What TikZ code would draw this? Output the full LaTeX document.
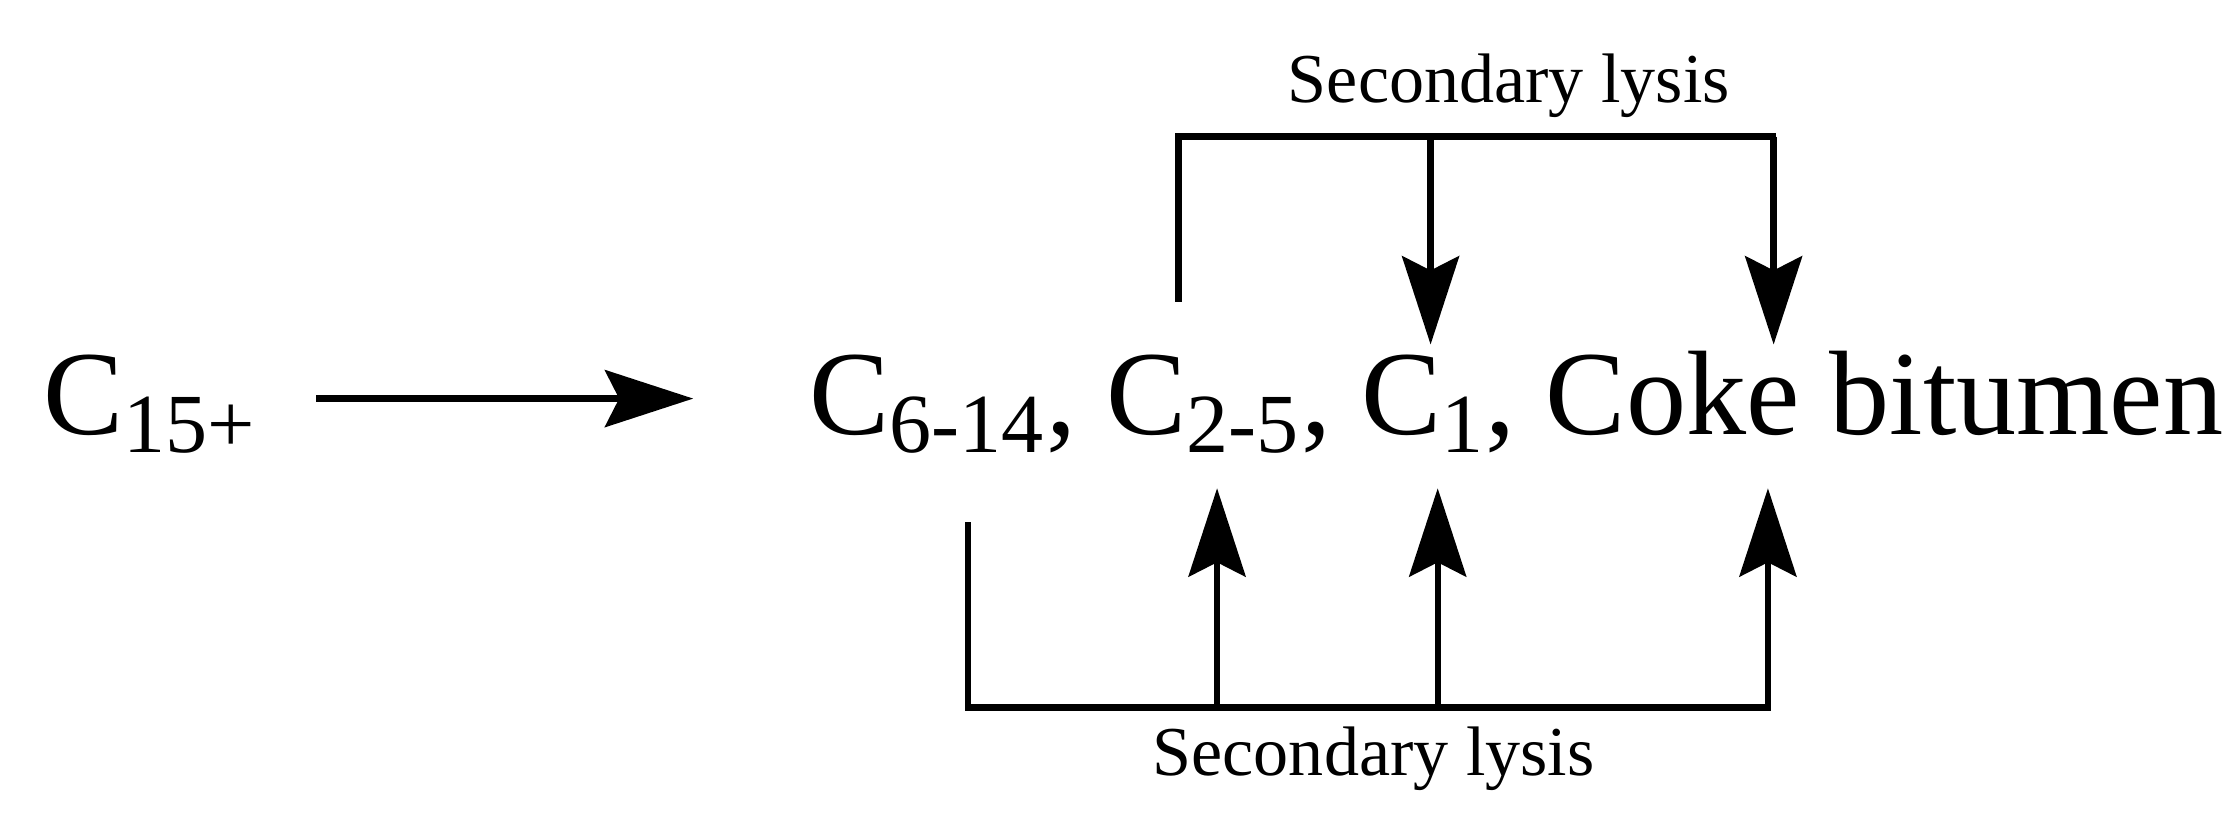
\documentclass[tikz,border=0pt]{standalone}
\usepackage{fontspec}
\setmainfont{Liberation Serif}
\usetikzlibrary{arrows.meta}
\begin{document}
\begin{tikzpicture}[x=0.01cm,y=-0.01cm,
  ln/.style={line width=0.045cm},
  arr/.style={ln,-{Stealth[length=0.62cm,width=0.4cm,inset=0.1cm]}},
  big/.style={inner sep=0,font=\fontsize{24}{28}\selectfont},
  lab/.style={inner sep=0,font=\fontsize{14}{17}\selectfont}]
\useasboundingbox (0,0) rectangle (1568,590);
\node[big,anchor=base west] (src) at (30,305) {C\textsubscript{15+}};
\node[big,anchor=base west] (prod) at (568,305) {C\textsubscript{6-14}, C\textsubscript{2-5}, C\textsubscript{1}, Coke bitumen};
\coordinate (a1) at (222,280); \coordinate (a2) at (487,280);
\draw[arr] (a1) -- (a2);
% top
\coordinate (t0) at (828,212); \coordinate (t1) at (828,96); \coordinate (t2) at (1248,96);
\coordinate (tm) at (1005,96); \coordinate (te1) at (1005,242);
\coordinate (tr) at (1246,96); \coordinate (te2) at (1246,242);
\draw[ln] (t0) -- (t1) -- (t2);
\draw[arr] (tm) -- (te1);
\draw[arr] (tr) -- (te2);
\node[lab,anchor=base] (tl) at (1060,72) {Secondary lysis};
% bottom
\coordinate (b0) at (680,367); \coordinate (b1) at (680,497); \coordinate (b2) at (1244,497);
\coordinate (bs1) at (855,497); \coordinate (be1) at (855,343);
\coordinate (bs2) at (1010,497); \coordinate (be2) at (1010,343);
\coordinate (bs3) at (1242,497); \coordinate (be3) at (1242,343);
\draw[ln] (b0) -- (b1) -- (b2);
\draw[arr] (bs1) -- (be1);
\draw[arr] (bs2) -- (be2);
\draw[arr] (bs3) -- (be3);
\node[lab,anchor=base] (bl) at (965,545) {Secondary lysis};
\end{tikzpicture}
\end{document}
